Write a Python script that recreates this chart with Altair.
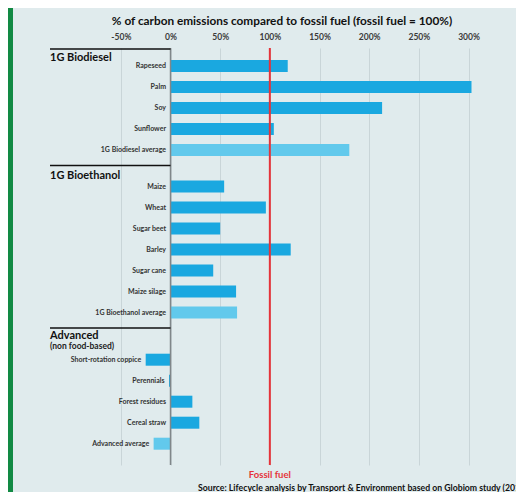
import altair as alt
import pandas as pd

# ---------------- data ----------------
group_names = ["1G Biodiesel", "1G Bioethanol", "Advanced"]
group_subtitles = ["", "", "(non food-based)"]

biodiesel_crops = ["Rapeseed", "Palm", "Soy", "Sunflower", "1G Biodiesel average"]
biodiesel_values = [118, 303, 213, 104, 180]

bioethanol_crops = ["Maize", "Wheat", "Sugar beet", "Barley", "Sugar cane",
                    "Maize silage", "1G Bioethanol average"]
bioethanol_values = [54, 96, 50, 121, 43, 66, 67]

advanced_crops = ["Short-rotation coppice", "Perennials", "Forest residues",
                  "Cereal straw", "Advanced average"]
advanced_values = [-25, -1.5, 22, 29, -17]

tick_values = [-50, 0, 50, 100, 150, 200, 250, 300]
reference_value = 100
reference_label = "Fossil fuel"
axis_title = "% of carbon emissions compared to fossil fuel (fossil fuel = 100%)"
source_text = "Source: Lifecycle analysis by Transport & Environment based on Globiom study (2016)"

# ---------------- layout ----------------
W = 508
PLOT_H = 417
PAD_TOP = 40
PAD_BOTTOM = 27
X_DOMAIN = [-163.6, 347.8]
PX_PER_UNIT = W / (X_DOMAIN[1] - X_DOMAIN[0])
SEP_LEFT_PX = 42
ROW = 21.0
LEAD = [17, 21, 31.7]
HEAD_OFF = [8, 10.5, 24]
SUB_OFF = 13.7
TAIL = 15.5

BG = "#e0ebed"
BAR = "#1aa8e0"
BAR_AVG = "#62c9ec"
FONT = "Lato"

groups = [
    (biodiesel_crops, biodiesel_values),
    (bioethanol_crops, bioethanol_values),
    (advanced_crops, advanced_values),
]

sep_x0 = X_DOMAIN[0] + SEP_LEFT_PX / PX_PER_UNIT

bar_rows, sep_rows, head_rows, sub_rows = [], [], [], []
pos = 1.0
for gi, (crops, vals) in enumerate(groups):
    sep_rows.append({"y": pos, "sx0": sep_x0, "sx1": 0})
    first = pos + LEAD[gi]
    head_rows.append({"text": group_names[gi], "y": first - HEAD_OFF[gi]})
    if group_subtitles[gi]:
        sub_rows.append({"text": group_subtitles[gi], "y": first - SUB_OFF})
    for i, (c, v) in enumerate(zip(crops, vals)):
        bar_rows.append({
            "crop": c, "value": v, "zero": 0, "y": first + i * ROW,
            "avg": "avg" if c.endswith("average") else "crop",
            "labx": min(v, 0),
        })
    pos = first + (len(crops) - 1) * ROW + TAIL

bars_df = pd.DataFrame(bar_rows)
seps_df = pd.DataFrame(sep_rows)
heads_df = pd.DataFrame(head_rows)
subs_df = pd.DataFrame(sub_rows)

xscale = alt.Scale(domain=X_DOMAIN, nice=False, zero=False, padding=0)
yscale = alt.Scale(domain=[0, PLOT_H], reverse=True, nice=False, zero=False, padding=0)
Y = alt.Y("y:Q", scale=yscale, axis=None)

xaxis = alt.Axis(
    orient="top", values=tick_values, labelExpr="datum.value + '%'",
    grid=True, gridColor="#c9d5d8", gridWidth=1, ticks=False, domain=False,
    labelPadding=7, labelFont=FONT, labelFontSize=8.5, labelFontWeight="bold",
    labelColor="#3a3a3a", title=axis_title, titleFont=FONT, titleFontSize=11.8,
    titleFontWeight="bold", titleColor="#111111", titleX=273.5, titleY=-28,
    titleBaseline="middle", titleAnchor="start", titleAlign="center",
)

green = alt.Chart(pd.DataFrame({"a": [0]})).mark_rect(color="#128a44").encode(
    x=alt.value(0), x2=alt.value(5), y=alt.value(-PAD_TOP), y2=alt.value(PLOT_H + PAD_BOTTOM)
)

grid_base = alt.Chart(pd.DataFrame({"v": tick_values})).mark_rule(opacity=0).encode(
    x=alt.X("v:Q", scale=xscale, axis=xaxis)
)

bars = alt.Chart(bars_df).mark_bar(size=12, orient="horizontal").encode(
    x=alt.X("value:Q", scale=xscale),
    x2="zero:Q",
    y=Y,
    color=alt.Color("avg:N", scale=alt.Scale(domain=["crop", "avg"], range=[BAR, BAR_AVG]), legend=None),
)

labels = alt.Chart(bars_df).mark_text(
    align="right", baseline="middle", dx=-4.5, font=FONT, fontSize=7,
    fontWeight="bold", color="#333333"
).encode(x=alt.X("labx:Q", scale=xscale), y=Y, text="crop:N")

zero_rule = alt.Chart(pd.DataFrame({"a": [0]})).mark_rule(color="#80878a", strokeWidth=1.5).encode(
    x=alt.datum(0, scale=xscale)
)

ref_rule = alt.Chart(pd.DataFrame({"a": [0]})).mark_rule(color="#e5333a", strokeWidth=2).encode(
    x=alt.datum(reference_value, scale=xscale)
)

seps = alt.Chart(seps_df).mark_rule(color="#111111", strokeWidth=1.5).encode(
    x=alt.X("sx0:Q", scale=xscale), x2="sx1:Q", y=Y
)

heads = alt.Chart(heads_df).mark_text(
    align="left", baseline="middle", font=FONT, fontSize=11, fontWeight="bold", color="#111111"
).encode(x=alt.value(SEP_LEFT_PX), y=Y, text="text:N")

subs = alt.Chart(subs_df).mark_text(
    align="left", baseline="middle", font=FONT, fontSize=8.5, fontWeight="bold", color="#222222"
).encode(x=alt.value(SEP_LEFT_PX), y=Y, text="text:N")

ref_label = alt.Chart(pd.DataFrame({"t": [reference_label]})).mark_text(
    align="center", baseline="middle", font=FONT, fontSize=9.5, fontWeight="bold", color="#e5333a"
).encode(x=alt.datum(reference_value, scale=xscale), y=alt.value(PLOT_H + 10), text="t:N")

source = alt.Chart(pd.DataFrame({"t": [source_text]})).mark_text(
    align="left", baseline="middle", font=FONT, fontSize=8.7, fontWeight="bold", color="#111111"
).encode(x=alt.value(190), y=alt.value(PLOT_H + 23), text="t:N")

chart = alt.layer(
    green, grid_base, bars, zero_rule, ref_rule, seps, labels, heads, subs, ref_label, source
).properties(
    width=W, height=PLOT_H, background=BG,
    autosize=alt.AutoSizeParams(type="none"),
    padding={"left": 0, "right": 0, "top": PAD_TOP, "bottom": PAD_BOTTOM},
).configure_view(stroke=None)

chart.save("out.html", embed_options={"renderer": "svg", "actions": False})
